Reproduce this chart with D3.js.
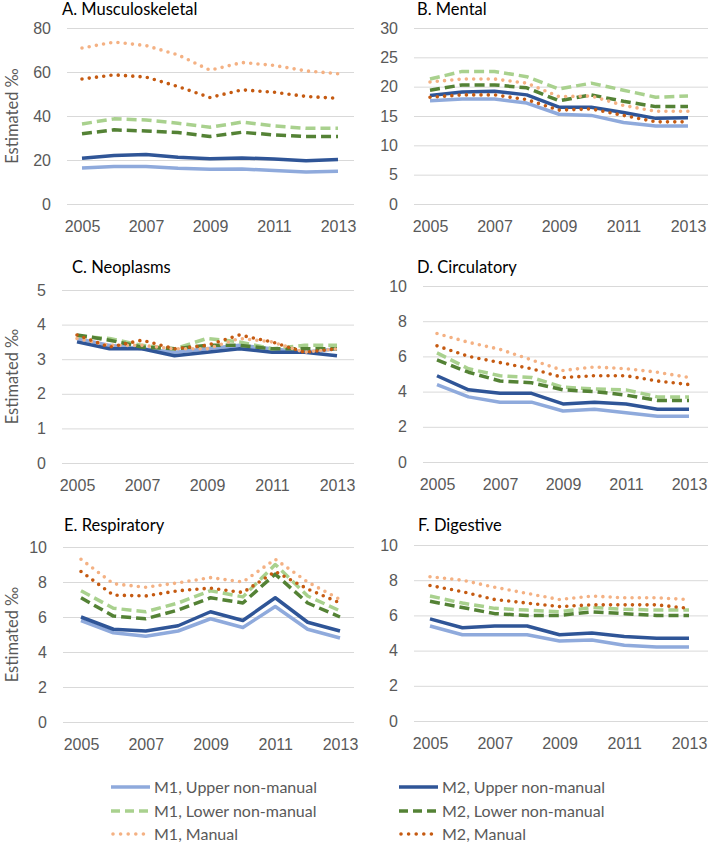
<!DOCTYPE html>
<html>
<head>
<meta charset="utf-8">
<script src="https://cdn.jsdelivr.net/npm/d3@7"></script>
<style>
  body { margin: 0; background: #fff; }
  svg { display: block; font-family: Lato, "Open Sans", sans-serif; }
  .tick text { fill: #595959; font-size: 16px; }
  .grid .tick line { stroke: #d9d9d9; stroke-width: 1; }
  .domain { display: none; }
</style>
</head>
<body>
<svg id="chart" width="708" height="844"></svg>
<script>
const years = [2005, 2006, 2007, 2008, 2009, 2010, 2011, 2012, 2013];
const yearTicks = [2005, 2007, 2009, 2011, 2013];

const seriesNames = [
    'M1, Upper non-manual', 'M2, Upper non-manual',
    'M1, Lower non-manual', 'M2, Lower non-manual',
    'M1, Manual', 'M2, Manual'
];

// values per series, same order as seriesNames
const musculoskeletal = [
    [16.4, 17.0, 17.1, 16.2, 15.8, 15.9, 15.2, 14.6, 14.9],
    [20.8, 22.0, 22.5, 21.2, 20.6, 20.9, 20.5, 19.7, 20.2],
    [36.4, 38.7, 38.2, 36.7, 34.9, 37.2, 35.5, 34.4, 34.4],
    [31.9, 33.7, 33.2, 32.5, 30.7, 32.6, 31.4, 30.7, 30.7],
    [70.9, 73.6, 72.0, 67.8, 60.8, 64.3, 63.0, 60.5, 59.2],
    [56.8, 58.7, 57.7, 53.4, 48.4, 51.9, 50.8, 48.9, 48.0]
];
const mental = [
    [17.6, 17.9, 17.9, 17.2, 15.3, 15.1, 13.9, 13.3, 13.3],
    [18.5, 19.1, 19.2, 18.6, 16.5, 16.5, 15.6, 14.6, 14.7],
    [21.3, 22.6, 22.6, 21.7, 19.6, 20.6, 19.4, 18.2, 18.4],
    [19.4, 20.3, 20.3, 19.8, 17.6, 18.6, 17.5, 16.6, 16.6],
    [20.8, 21.3, 21.3, 20.6, 18.3, 18.4, 16.8, 15.8, 15.8],
    [18.2, 18.6, 18.6, 17.8, 16.0, 16.2, 15.1, 14.0, 14.0]
];
const neoplasms = [
    [3.6, 3.4, 3.3, 3.2, 3.3, 3.4, 3.3, 3.2, 3.3],
    [3.5, 3.3, 3.3, 3.1, 3.2, 3.3, 3.2, 3.2, 3.1],
    [3.67, 3.6, 3.4, 3.3, 3.6, 3.5, 3.3, 3.4, 3.4],
    [3.7, 3.55, 3.35, 3.3, 3.4, 3.4, 3.3, 3.3, 3.3],
    [3.6, 3.4, 3.4, 3.3, 3.3, 3.6, 3.5, 3.2, 3.3],
    [3.7, 3.35, 3.55, 3.3, 3.4, 3.7, 3.5, 3.2, 3.3]
];
const circulatory = [
    [4.4, 3.7, 3.4, 3.4, 2.9, 3.0, 2.8, 2.6, 2.6],
    [4.9, 4.1, 3.9, 3.9, 3.3, 3.4, 3.3, 3.0, 3.0],
    [6.2, 5.3, 4.9, 4.8, 4.25, 4.15, 4.1, 3.7, 3.7],
    [5.8, 5.1, 4.6, 4.5, 4.1, 4.0, 3.8, 3.5, 3.5],
    [7.3, 6.8, 6.4, 5.8, 5.2, 5.4, 5.3, 5.1, 4.8],
    [6.6, 6.0, 5.65, 5.3, 4.8, 4.9, 4.9, 4.6, 4.4]
];
const respiratory = [
    [5.8, 5.1, 4.9, 5.2, 5.9, 5.4, 6.6, 5.3, 4.8],
    [6.0, 5.3, 5.2, 5.5, 6.3, 5.8, 7.1, 5.7, 5.2],
    [7.5, 6.5, 6.3, 6.8, 7.5, 7.15, 9.0, 7.2, 6.35],
    [7.1, 6.05, 5.9, 6.4, 7.1, 6.8, 8.45, 6.8, 6.0],
    [9.3, 7.9, 7.7, 7.95, 8.25, 8.0, 9.3, 8.0, 7.0],
    [8.6, 7.25, 7.2, 7.5, 7.65, 7.4, 8.6, 7.6, 6.8]
];
const digestive = [
    [5.4, 4.9, 4.9, 4.9, 4.55, 4.6, 4.3, 4.2, 4.2],
    [5.8, 5.3, 5.4, 5.4, 4.9, 5.0, 4.8, 4.7, 4.7],
    [7.1, 6.7, 6.4, 6.3, 6.2, 6.45, 6.35, 6.3, 6.3],
    [6.8, 6.45, 6.1, 6.0, 6.0, 6.2, 6.1, 6.0, 6.0],
    [8.2, 8.0, 7.6, 7.25, 6.9, 7.1, 7.0, 7.0, 6.9],
    [7.7, 7.35, 6.9, 6.7, 6.5, 6.6, 6.6, 6.6, 6.4]
];

const panelTitles = ['A. Musculoskeletal', 'B. Mental', 'C. Neoplasms',
    'D. Circulatory', 'E. Respiratory', 'F. Digestive'];
const panelValues = [musculoskeletal, mental, neoplasms, circulatory, respiratory, digestive];
const panelYTicks = [
    [0, 20, 40, 60, 80],
    [0, 5, 10, 15, 20, 25, 30],
    [0, 1, 2, 3, 4, 5],
    [0, 2, 4, 6, 8, 10],
    [0, 2, 4, 6, 8, 10],
    [0, 2, 4, 6, 8, 10]
];

// layout of each panel (pixels)
const frames = [
    {gl: 67, gr: 354, x0: 82, x1: 338, top: 28, bottom: 204, tx: 62, ty: 15, label: true},
    {gl: 414, gr: 708, x0: 430, x1: 688, top: 28, bottom: 204, tx: 417, ty: 15, label: false},
    {gl: 62, gr: 354, x0: 77, x1: 337, top: 290, bottom: 463, tx: 72, ty: 273, label: true},
    {gl: 423, gr: 708, x0: 437, x1: 689, top: 286, bottom: 462, tx: 417, ty: 273, label: false},
    {gl: 63, gr: 354, x0: 81, x1: 340, top: 547, bottom: 722, tx: 64, ty: 531, label: true},
    {gl: 414, gr: 708, x0: 430, x1: 689, top: 545, bottom: 721, tx: 418, ty: 531, label: false}
];

const styles = [
    {color: '#8faadc', dash: null, cap: 'butt', w: 3.5},
    {color: '#2f5597', dash: null, cap: 'butt', w: 3.5},
    {color: '#a9d18e', dash: '10,5', cap: 'butt', w: 3.5},
    {color: '#548235', dash: '10,5', cap: 'butt', w: 3.5},
    {color: '#f4b183', dash: '0,7.3', cap: 'round', w: 3.6},
    {color: '#c55a11', dash: '0,7.3', cap: 'round', w: 3.6}
];

const svg = d3.select('#chart');

frames.forEach((f, i) => {
    const x = d3.scaleLinear().domain([2005, 2013]).range([f.x0, f.x1]);
    const y = d3.scaleLinear().domain([0, d3.max(panelYTicks[i])]).range([f.bottom, f.top]);

    const g = svg.append('g');

    g.append('g')
        .attr('class', 'grid')
        .attr('transform', 'translate(' + f.gl + ',0)')
        .call(d3.axisLeft(y).tickValues(panelYTicks[i]).tickFormat(d3.format('d'))
            .tickSize(-(f.gr - f.gl)).tickPadding(16));

    g.append('g')
        .attr('class', 'xaxis')
        .attr('transform', 'translate(0,' + f.bottom + ')')
        .call(d3.axisBottom(x).tickValues(yearTicks).tickFormat(d3.format('d')).tickSize(0).tickPadding(17));

    g.append('text')
        .attr('x', f.tx)
        .attr('y', f.ty)
        .style('font-size', '16.5px')
        .style('fill', '#000')
        .text(panelTitles[i]);

    if (f.label) {
        g.append('text')
            .attr('transform', 'translate(18,' + ((f.top + f.bottom) / 2) + ') rotate(-90)')
            .attr('text-anchor', 'middle')
            .style('font-size', '16.5px')
            .style('fill', '#595959')
            .text('Estimated ‰');
    }

    const line = d3.line()
        .x((d, j) => x(years[j]))
        .y((d) => y(d));

    g.selectAll('.series')
        .data(panelValues[i])
        .enter()
    .append('path')
        .attr('class', 'series')
        .attr('d', (d) => line(d))
        .attr('fill', 'none')
        .attr('stroke', (d, k) => styles[k].color)
        .attr('stroke-width', (d, k) => styles[k].w)
        .attr('stroke-dasharray', (d, k) => styles[k].dash)
        .attr('stroke-linecap', (d, k) => styles[k].cap)
        .attr('stroke-linejoin', 'round');
});

// legend
const legendX = [111, 399];
const legendY = [787, 811, 834];
const legend = svg.selectAll('.legend')
    .data(seriesNames)
    .enter()
.append('g')
    .attr('class', 'legend')
    .attr('transform', (d, k) => 'translate(' + legendX[k % 2] + ',' + legendY[Math.floor(k / 2)] + ')');

legend.append('line')
    .attr('x1', (d, k) => styles[k].cap === 'round' ? 2 : 0)
    .attr('x2', 39)
    .attr('stroke', (d, k) => styles[k].color)
    .attr('stroke-width', (d, k) => styles[k].w)
    .attr('stroke-dasharray', (d, k) => styles[k].dash ? (styles[k].cap === 'round' ? '0,7.6' : '9,5') : null)
    .attr('stroke-linecap', (d, k) => styles[k].cap);

legend.append('text')
    .attr('x', 43)
    .attr('dy', '0.35em')
    .style('font-size', '16px')
    .style('fill', '#595959')
    .text((d) => d);
</script>
</body>
</html>
